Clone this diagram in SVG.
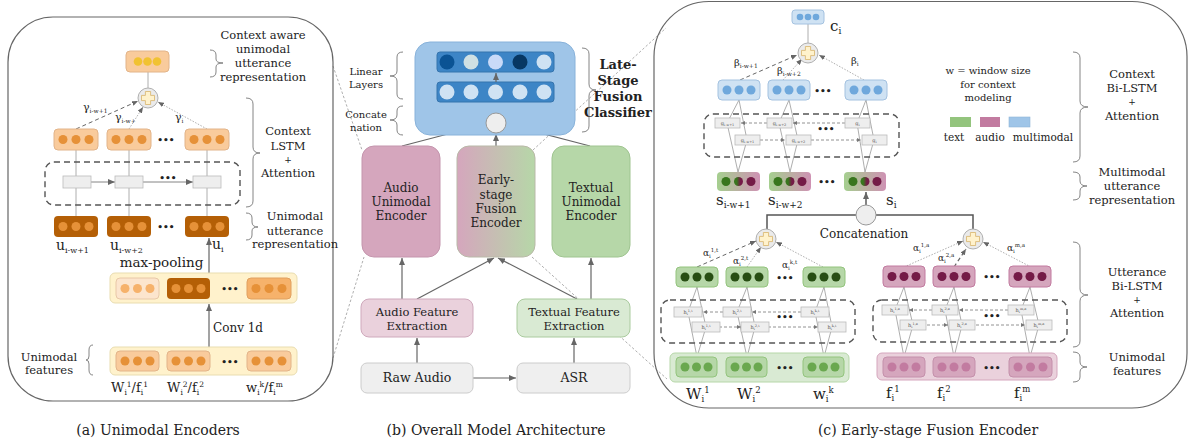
<svg xmlns="http://www.w3.org/2000/svg" width="1192" height="447" viewBox="0 0 1192 447">
<defs>
<style>
.f{font-family:"DejaVu Serif","Liberation Serif",serif;fill:#222}
.c{text-anchor:middle}
.frame{fill:none;stroke:#666;stroke-width:1.2}
.dbox{fill:none;stroke:#555;stroke-width:1.4;stroke-dasharray:6,4}
.cell{fill:#eeeeee;stroke:#bbbbbb;stroke-width:0.8}
.ln{fill:none;stroke:#999;stroke-width:0.8}
.ar{fill:none;stroke:#666;stroke-width:1.2;marker-end:url(#ah)}
.da{fill:none;stroke:#666;stroke-width:1;stroke-dasharray:4,3;marker-end:url(#ahs)}
.dt{fill:none;stroke:#999;stroke-width:0.8;stroke-dasharray:1.5,1.5;marker-end:url(#ahs)}
.dg{fill:none;stroke:#999;stroke-width:0.8;stroke-dasharray:2.5,2}
.cda{fill:none;stroke:#777;stroke-width:0.8;stroke-dasharray:3,2;marker-end:url(#aht)}
.brace{fill:none;stroke:#777;stroke-width:0.9}
.dots{font-family:"DejaVu Sans",sans-serif;font-size:9px;fill:#222;text-anchor:middle;font-weight:bold}
.tiny{font-family:"DejaVu Serif",serif;font-size:5px;fill:#555;text-anchor:middle}
</style>
<marker id="ah" markerWidth="7" markerHeight="6" refX="7" refY="3" orient="auto" markerUnits="userSpaceOnUse"><path d="M0,0 L7,3 L0,6 z" fill="#666"/></marker>
<marker id="ahs" markerWidth="6" markerHeight="5" refX="6" refY="2.5" orient="auto" markerUnits="userSpaceOnUse"><path d="M0,0 L6,2.5 L0,5 z" fill="#666"/></marker>
<marker id="aht" markerWidth="4" markerHeight="4" refX="4" refY="2" orient="auto" markerUnits="userSpaceOnUse"><path d="M0,0 L4,2 L0,4 z" fill="#777"/></marker>
<linearGradient id="gEarly" x1="0" y1="0" x2="1" y2="0"><stop offset="0" stop-color="#d5a6bd"/><stop offset="1" stop-color="#b6d7a8"/></linearGradient>
<linearGradient id="gS" x1="0" y1="0" x2="1" y2="0"><stop offset="0" stop-color="#a5cf8f"/><stop offset="1" stop-color="#cf92b4"/></linearGradient>
<linearGradient id="gSc" x1="0" y1="0" x2="1" y2="0"><stop offset="0.3" stop-color="#38761d"/><stop offset="0.7" stop-color="#741b47"/></linearGradient>
<g id="plus"><circle cx="0" cy="0" r="10" fill="#ebebeb" stroke="#b0b0b0" stroke-width="1"/><path d="M-2.6,-6.5 h5.2 v3.9 h3.9 v5.2 h-3.9 v3.9 h-5.2 v-3.9 h-3.9 v-5.2 h3.9 z" fill="#fff2cc" stroke="#d8b46a" stroke-width="0.8"/></g>
</defs>
<rect width="1192" height="447" fill="#ffffff"/>

<g id="connectors">
<!-- cross-panel dashed guide lines -->
<path class="dg" d="M333,66 L362,150"/>
<path class="dg" d="M333,358 L364,257"/>
<path class="dg" d="M533,150 L666,28"/>
<path class="dg" d="M532,257 L667,379"/>
<!-- panel a -->
<path class="ln" d="M148,88 V72"/>
<path class="da" d="M76,129 L138,101"/>
<path class="dt" d="M129,129 L143,107"/>
<path class="dt" d="M207,129 L158,102"/>
<path class="ln" d="M76,150 V216 M129,150 V216 M207,150 V216"/>
<path class="ar" style="stroke-width:0.8" d="M91,182 H115"/>
<path class="ar" style="stroke-width:0.8" d="M143,182 H193"/>
<path class="ar" d="M209,273 V238"/>
<path class="ar" d="M209,347 V304"/>
<!-- panel b -->
<path class="ar" d="M496,113 V103"/>
<path class="ar" d="M496,82 V73"/>
<path class="ar" d="M402,146 L486,124"/>
<path class="ar" d="M496,146 V134"/>
<path class="ar" d="M590,146 L506,124"/>
<path class="ar" d="M402,299 V258"/>
<path class="ar" d="M417,299 L494,258"/>
<path class="ar" d="M577,299 L498,258"/>
<path class="ar" d="M591,299 V258"/>
<path class="ar" d="M417,363 V338"/>
<path class="ar" d="M574,363 V338"/>
<path class="ar" d="M473,378 H516"/>
<!-- panel c : context level -->
<path class="ln" d="M808,43 V24"/>
<path class="da" d="M740,80 L797,55"/>
<path class="dt" d="M783,80 L802,59"/>
<path class="dt" d="M864,80 L819,55"/>
<path class="ln" d="M739,100 L727,123 L738,172 L747,140 Z"/>
<path class="ln" d="M789,100 L779,123 L790,172 L798,140 Z"/>
<path class="ln" d="M866,100 L857,123 L865,172 L874,140 Z"/>
<path class="cda" d="M767,123 H741"/>
<path class="cda" d="M845,123 H793"/>
<path class="cda" d="M760,140 H785"/>
<path class="cda" d="M811,140 H861"/>
<path class="ar" style="stroke-width:1.6" d="M866,205 V192"/>
<path fill="none" stroke="#555" stroke-width="1.5" d="M856,215 H767 V229"/>
<path fill="none" stroke="#555" stroke-width="1.5" d="M876,215 H973 V229"/>
<!-- panel c : text level -->
<path class="da" d="M697,267 L756,241"/>
<path class="dt" d="M747,267 L761,247"/>
<path class="dt" d="M823,267 L776,242"/>
<path class="ln" d="M697,287 L688,312 L697,357 L706,327 Z"/>
<path class="ln" d="M747,287 L737,312 L747,357 L755,327 Z"/>
<path class="ln" d="M824,287 L815,312 L824,357 L832,327 Z"/>
<path class="cda" d="M723,312 H703"/>
<path class="cda" d="M801,312 H752"/>
<path class="cda" d="M719,327 H741"/>
<path class="cda" d="M768,327 H818"/>
<!-- panel c : audio level -->
<path class="dt" d="M904,267 L963,241"/>
<path class="da" style="stroke-width:1.2" d="M954,267 L966,249"/>
<path class="dt" d="M1031,267 L983,242"/>
<path class="ln" d="M904,287 L895,310 L904,357 L913,325 Z"/>
<path class="ln" d="M954,287 L945,310 L954,357 L962,325 Z"/>
<path class="ln" d="M1030,287 L1021,310 L1030,357 L1039,325 Z"/>
<path class="cda" d="M932,310 H909"/>
<path class="cda" d="M1008,310 H959"/>
<path class="cda" d="M927,325 H948"/>
<path class="cda" d="M976,325 H1025"/>
</g>

<!-- ================= PANEL A ================= -->
<g id="panel-a-frame"><rect class="frame" x="8" y="17" width="325" height="384" rx="45"/></g>

<g id="a-context-out">
<rect x="126" y="51" width="43" height="21" rx="4" fill="#f9cb9c" stroke="#e2b48a"/>
<circle cx="138" cy="61.5" r="4.3" fill="#f1c232"/><circle cx="147.5" cy="61.5" r="4.3" fill="#f1c232"/><circle cx="157" cy="61.5" r="4.3" fill="#f1c232"/>
</g>
<g id="a-plus"><use href="#plus" x="148" y="98"/></g>

<g id="a-attn-labels">
<text class="f" x="83" y="111" font-size="11">γ<tspan font-size="6" dy="2">i-w+1</tspan></text>
<text class="f" x="115" y="121" font-size="11">γ<tspan font-size="6" dy="2">i-w+</tspan></text>
<text class="f" x="116" y="136" font-size="6">2</text>
<text class="f" x="175" y="121" font-size="11">γ<tspan font-size="6" dy="2">i</tspan></text>
</g>

<g id="a-ctx-h1"><rect x="54" y="129" width="44" height="21" rx="4" fill="#f9cb9c" stroke="#e2b48a"/><circle cx="63" cy="139.5" r="4.5" fill="#e69138"/><circle cx="76" cy="139.5" r="4.5" fill="#e69138"/><circle cx="89" cy="139.5" r="4.5" fill="#e69138"/></g>
<g id="a-ctx-h2"><rect x="107" y="129" width="44" height="21" rx="4" fill="#f9cb9c" stroke="#e2b48a"/><circle cx="116" cy="139.5" r="4.5" fill="#e69138"/><circle cx="129" cy="139.5" r="4.5" fill="#e69138"/><circle cx="142" cy="139.5" r="4.5" fill="#e69138"/></g>
<text class="dots" x="166" y="143">•••</text>
<g id="a-ctx-h3"><rect x="185" y="129" width="44" height="21" rx="4" fill="#f9cb9c" stroke="#e2b48a"/><circle cx="194" cy="139.5" r="4.5" fill="#e69138"/><circle cx="207" cy="139.5" r="4.5" fill="#e69138"/><circle cx="220" cy="139.5" r="4.5" fill="#e69138"/></g>

<g id="a-lstm">
<rect class="dbox" x="45" y="162" width="195" height="43" rx="9"/>
<rect class="cell" x="63" y="176" width="28" height="12"/>
<rect class="cell" x="115" y="176" width="28" height="12"/>
<rect class="cell" x="193" y="176" width="28" height="12"/>
<text class="dots" x="168" y="181">•••</text>
</g>

<g id="a-u1"><rect x="54" y="216" width="44" height="21" rx="4" fill="#b45f06"/><circle cx="63" cy="226.5" r="4.5" fill="#e69138"/><circle cx="76" cy="226.5" r="4.5" fill="#e69138"/><circle cx="89" cy="226.5" r="4.5" fill="#e69138"/></g>
<g id="a-u2"><rect x="107" y="216" width="44" height="21" rx="4" fill="#b45f06"/><circle cx="116" cy="226.5" r="4.5" fill="#e69138"/><circle cx="129" cy="226.5" r="4.5" fill="#e69138"/><circle cx="142" cy="226.5" r="4.5" fill="#e69138"/></g>
<text class="dots" x="166" y="230">•••</text>
<g id="a-u3"><rect x="185" y="216" width="44" height="21" rx="4" fill="#b45f06"/><circle cx="194" cy="226.5" r="4.5" fill="#e69138"/><circle cx="207" cy="226.5" r="4.5" fill="#e69138"/><circle cx="220" cy="226.5" r="4.5" fill="#e69138"/></g>
<g id="a-u-labels">
<text class="f" x="56" y="250" font-size="14">u<tspan font-size="8" dy="3">i-w+1</tspan></text>
<text class="f" x="110" y="250" font-size="14">u<tspan font-size="8" dy="3">i-w+2</tspan></text>
<text class="f" x="212" y="249" font-size="14">u<tspan font-size="8" dy="3">i</tspan></text>
</g>
<text class="f c" x="161.5" y="267" font-size="13.5">max-pooling</text>

<g id="a-maxpool">
<rect x="110" y="273" width="187" height="30" rx="5" fill="#fff2cc" stroke="#e9ddb0"/>
<rect x="116" y="278" width="43" height="21" rx="4" fill="#fce5cd" stroke="#e8c8a8"/><circle cx="125" cy="288.5" r="4.5" fill="#f6b26b"/><circle cx="137.5" cy="288.5" r="4.5" fill="#f6b26b"/><circle cx="150" cy="288.5" r="4.5" fill="#f6b26b"/>
<rect x="167" y="278" width="43" height="21" rx="4" fill="#b45f06"/><circle cx="176" cy="288.5" r="4.5" fill="#e69138"/><circle cx="188.5" cy="288.5" r="4.5" fill="#e69138"/><circle cx="201" cy="288.5" r="4.5" fill="#e69138"/>
<text class="dots" x="230" y="292">•••</text>
<rect x="247" y="278" width="44" height="21" rx="4" fill="#f6b26b" stroke="#e0a060"/><circle cx="256" cy="288.5" r="4.5" fill="#e69138"/><circle cx="269" cy="288.5" r="4.5" fill="#e69138"/><circle cx="282" cy="288.5" r="4.5" fill="#e69138"/>
</g>
<text class="f" x="213" y="332" font-size="12">Conv 1d</text>

<g id="a-features">
<rect x="110" y="347" width="187" height="28" rx="5" fill="#fff2cc" stroke="#e9ddb0"/>
<rect x="116" y="351" width="43" height="20" rx="4" fill="#f9cb9c" stroke="#e2b48a"/><circle cx="125" cy="361" r="4.5" fill="#e69138"/><circle cx="137.5" cy="361" r="4.5" fill="#e69138"/><circle cx="150" cy="361" r="4.5" fill="#e69138"/>
<rect x="167" y="351" width="43" height="20" rx="4" fill="#f9cb9c" stroke="#e2b48a"/><circle cx="176" cy="361" r="4.5" fill="#e69138"/><circle cx="188.5" cy="361" r="4.5" fill="#e69138"/><circle cx="201" cy="361" r="4.5" fill="#e69138"/>
<text class="dots" x="230" y="364.5">•••</text>
<rect x="247" y="351" width="44" height="20" rx="4" fill="#f9cb9c" stroke="#e2b48a"/><circle cx="256" cy="361" r="4.5" fill="#e69138"/><circle cx="269" cy="361" r="4.5" fill="#e69138"/><circle cx="282" cy="361" r="4.5" fill="#e69138"/>
</g>
<g id="a-feature-labels">
<text class="f" x="111" y="392" font-size="13">W<tspan font-size="7.5" dy="3">i</tspan><tspan font-size="7.5" dy="-8">1</tspan><tspan dy="5">/f</tspan><tspan font-size="7.5" dy="3">i</tspan><tspan font-size="7.5" dy="-8">1</tspan></text>
<text class="f" x="167" y="392" font-size="13">W<tspan font-size="7.5" dy="3">i</tspan><tspan font-size="7.5" dy="-8">2</tspan><tspan dy="5">/f</tspan><tspan font-size="7.5" dy="3">i</tspan><tspan font-size="7.5" dy="-8">2</tspan></text>
<text class="f" x="246" y="392" font-size="13">w<tspan font-size="7.5" dy="3">i</tspan><tspan font-size="7.5" dy="-8">k</tspan><tspan dy="5">/f</tspan><tspan font-size="7.5" dy="3">i</tspan><tspan font-size="7.5" dy="-8">m</tspan></text>
</g>

<g id="a-side-labels">
<text class="f c" font-size="11.5"><tspan x="263" y="39">Context aware</tspan><tspan x="263" y="53">unimodal</tspan><tspan x="263" y="67">utterance</tspan><tspan x="263" y="81">representation</tspan></text>
<path class="brace" d="M210,50 Q216,50 216,55 L216,59 Q216,63 223,63 Q216,63 216,67 L216,72 Q216,77 210,77"/>
<text class="f c" font-size="11.5"><tspan x="288" y="135">Context</tspan><tspan x="288" y="150">LSTM</tspan><tspan x="288" y="163" font-size="9">+</tspan><tspan x="288" y="177">Attention</tspan></text>
<path class="brace" d="M246,98 Q253,98 253,104 L253,147 Q253,153 260,153 Q253,153 253,159 L253,201 Q253,207 246,207"/>
<text class="f c" font-size="11.5"><tspan x="295" y="220">Unimodal</tspan><tspan x="295" y="235">utterance</tspan><tspan x="295" y="248">representation</tspan></text>
<path class="brace" d="M246,213 Q252,213 252,218 L252,222 Q252,227 258,227 Q252,227 252,231 L252,235 Q252,240 246,240"/>
<text class="f c" font-size="11.5"><tspan x="49" y="361">Unimodal</tspan><tspan x="49" y="374">features</tspan></text>
<path class="brace" d="M93,345 Q89,345 89,350 L89,356 Q89,360 86,360 Q89,360 89,364 L89,370 Q89,375 93,375"/>
</g>
<text class="f c" x="158" y="435" font-size="14">(a)  Unimodal Encoders</text>

<!-- ================= PANEL B ================= -->
<g id="b-classifier">
<rect x="415" y="42" width="160" height="93" rx="15" fill="#9fc5e8" stroke="#88b2da"/>
<rect x="437" y="52" width="117" height="20" rx="3" fill="#3d85c6" stroke="#3574ad"/>
<circle cx="447" cy="62" r="7.5" fill="#0b5394"/><circle cx="471" cy="62" r="7.5" fill="#d0e0e3"/><circle cx="495.5" cy="62" r="7.5" fill="#c9daf8"/><circle cx="520" cy="62" r="7.5" fill="#073763"/><circle cx="544" cy="62" r="7.5" fill="#cfe2f3"/>
<rect x="437" y="82" width="117" height="20" rx="3" fill="#3d85c6" stroke="#3574ad"/>
<circle cx="447" cy="92" r="7.5" fill="#cfe2f3"/><circle cx="471" cy="92" r="7.5" fill="#cfe2f3"/><circle cx="495.5" cy="92" r="7.5" fill="#cfe2f3"/><circle cx="520" cy="92" r="7.5" fill="#cfe2f3"/><circle cx="544" cy="92" r="7.5" fill="#cfe2f3"/>
</g>
<path class="ar" d="M496,82 V73"/>
<g id="b-concat"><circle cx="496" cy="123" r="10" fill="#eeeeee" stroke="#999"/></g>
<g id="b-classifier-labels">
<text class="f c" font-size="10"><tspan x="366" y="75">Linear</tspan><tspan x="366" y="88">Layers</tspan></text>
<path class="brace" d="M403,52 Q397,52 397,57 L397,71 Q397,76 390,76 Q397,76 397,81 L397,94 Q397,99 403,99"/>
<text class="f c" font-size="10"><tspan x="366" y="118">Concate</tspan><tspan x="366" y="131">nation</tspan></text>
<path class="brace" d="M403,106 Q397,106 397,111 L397,115 Q397,120 390,120 Q397,120 397,125 L397,130 Q397,135 403,135"/>
<text class="f c" font-size="13" font-weight="bold"><tspan x="618" y="69">Late-</tspan><tspan x="618" y="85">Stage</tspan><tspan x="618" y="101">Fusion</tspan><tspan x="618" y="117">Classifier</tspan></text>
<path class="brace" d="M582,48 Q589,48 589,54 L589,84 Q589,90 596,90 Q589,90 589,96 L589,126 Q589,132 582,132"/>
</g>
<g id="b-audio-enc"><rect x="362" y="146" width="78" height="111" rx="12" fill="#d5a6bd" stroke="#c495ad"/>
<text class="f c" font-size="12"><tspan x="401" y="192">Audio</tspan><tspan x="401" y="206">Unimodal</tspan><tspan x="401" y="220">Encoder</tspan></text></g>
<g id="b-early-enc"><rect x="457" y="146" width="78" height="111" rx="12" fill="url(#gEarly)" stroke="#b9b9a8"/>
<text class="f c" font-size="12"><tspan x="496" y="184">Early-</tspan><tspan x="496" y="199">stage</tspan><tspan x="496" y="213">Fusion</tspan><tspan x="496" y="227">Encoder</tspan></text></g>
<g id="b-text-enc"><rect x="552" y="146" width="78" height="111" rx="12" fill="#b6d7a8" stroke="#9fc490"/>
<text class="f c" font-size="12"><tspan x="591" y="192">Textual</tspan><tspan x="591" y="206">Unimodal</tspan><tspan x="591" y="220">Encoder</tspan></text></g>
<g id="b-audio-feat"><rect x="361" y="299" width="112" height="38" rx="8" fill="#ead1dc" stroke="#cfa9bc"/>
<text class="f c" font-size="11.5"><tspan x="417" y="316">Audio Feature</tspan><tspan x="417" y="330">Extraction</tspan></text></g>
<g id="b-text-feat"><rect x="517" y="299" width="113" height="38" rx="8" fill="#d9ead3" stroke="#aacb9e"/>
<text class="f c" font-size="11.5"><tspan x="574" y="316">Textual Feature</tspan><tspan x="574" y="330">Extraction</tspan></text></g>
<g id="b-raw-audio"><rect x="361" y="363" width="112" height="30" rx="6" fill="#efefef" stroke="#cccccc"/>
<text class="f c" x="417" y="382" font-size="12.5">Raw Audio</text></g>
<g id="b-asr"><rect x="517" y="363" width="113" height="30" rx="6" fill="#efefef" stroke="#cccccc"/>
<text class="f c" x="574" y="382" font-size="12.5">ASR</text></g>
<text class="f c" x="496" y="435" font-size="14">(b) Overall Model Architecture</text>

<!-- ================= PANEL C ================= -->
<g id="panel-c-frame"><rect class="frame" x="654" y="1.5" width="533" height="406.5" rx="55"/></g>

<g id="c-ci"><rect x="792" y="10" width="32" height="14" rx="3" fill="#cfe2f3" stroke="#a4c2e0"/>
<circle cx="800" cy="17" r="3.3" fill="#6fa8dc"/><circle cx="808" cy="17" r="3.3" fill="#6fa8dc"/><circle cx="816" cy="17" r="3.3" fill="#6fa8dc"/></g>
<text class="f" x="830" y="31" font-size="15">c<tspan font-size="9" dy="3">i</tspan></text>
<g id="c-plus-ctx"><use href="#plus" x="808" y="53"/></g>
<g id="c-beta-labels">
<text class="f" x="734" y="66" font-size="10">β<tspan font-size="6" dy="2">i-w+1</tspan></text>
<text class="f" x="777" y="74" font-size="10">β<tspan font-size="6" dy="2">i-w+2</tspan></text>
<text class="f" x="851" y="64" font-size="10">β<tspan font-size="6" dy="2">i</tspan></text>
</g>
<g id="c-ctx-h1"><rect x="718" y="80" width="42" height="20" rx="4" fill="#cfe2f3" stroke="#a4c2e0"/><circle cx="727" cy="90" r="4.5" fill="#6fa8dc"/><circle cx="739" cy="90" r="4.5" fill="#6fa8dc"/><circle cx="751" cy="90" r="4.5" fill="#6fa8dc"/></g>
<g id="c-ctx-h2"><rect x="768" y="80" width="42" height="20" rx="4" fill="#cfe2f3" stroke="#a4c2e0"/><circle cx="777" cy="90" r="4.5" fill="#6fa8dc"/><circle cx="789" cy="90" r="4.5" fill="#6fa8dc"/><circle cx="801" cy="90" r="4.5" fill="#6fa8dc"/></g>
<text class="dots" x="823" y="93.5">•••</text>
<g id="c-ctx-h3"><rect x="845" y="80" width="42" height="20" rx="4" fill="#cfe2f3" stroke="#a4c2e0"/><circle cx="854" cy="90" r="4.5" fill="#6fa8dc"/><circle cx="866" cy="90" r="4.5" fill="#6fa8dc"/><circle cx="878" cy="90" r="4.5" fill="#6fa8dc"/></g>

<g id="c-ctx-bilstm">
<rect class="dbox" x="704" y="114" width="195" height="43" rx="9"/>
<rect class="cell" x="715" y="118" width="25" height="10"/><text class="tiny" x="727.5" y="125">g<tspan font-size="3.5" dy="1">i-w+1</tspan></text>
<rect class="cell" x="767" y="118" width="25" height="10"/><text class="tiny" x="779.5" y="125">g<tspan font-size="3.5" dy="1">i-w+2</tspan></text>
<rect class="cell" x="845" y="118" width="25" height="10"/><text class="tiny" x="857.5" y="125">g<tspan font-size="3.5" dy="1">i</tspan></text>
<rect class="cell" x="735" y="135" width="25" height="10"/><text class="tiny" x="747.5" y="142">g<tspan font-size="3.5" dy="1">i-w+1</tspan></text>
<rect class="cell" x="786" y="135" width="25" height="10"/><text class="tiny" x="798.5" y="142">g<tspan font-size="3.5" dy="1">i-w+2</tspan></text>
<rect class="cell" x="862" y="135" width="25" height="10"/><text class="tiny" x="874.5" y="142">g<tspan font-size="3.5" dy="1">i</tspan></text>
<text class="dots" x="826" y="131.5">•••</text>
</g>

<g id="c-s1"><rect x="717" y="172" width="43" height="19" rx="4" fill="url(#gS)"/><circle cx="726" cy="181.5" r="4.5" fill="#38761d"/><circle cx="738.5" cy="181.5" r="4.5" fill="url(#gSc)"/><circle cx="751" cy="181.5" r="4.5" fill="#741b47"/></g>
<g id="c-s2"><rect x="769" y="172" width="42" height="19" rx="4" fill="url(#gS)"/><circle cx="778" cy="181.5" r="4.5" fill="#38761d"/><circle cx="790" cy="181.5" r="4.5" fill="url(#gSc)"/><circle cx="802" cy="181.5" r="4.5" fill="#741b47"/></g>
<text class="dots" x="827" y="185">•••</text>
<g id="c-s3"><rect x="844" y="172" width="42" height="19" rx="4" fill="url(#gS)"/><circle cx="853" cy="181.5" r="4.5" fill="#38761d"/><circle cx="865" cy="181.5" r="4.5" fill="url(#gSc)"/><circle cx="877" cy="181.5" r="4.5" fill="#741b47"/></g>
<g id="c-s-labels">
<text class="f" x="716" y="205" font-size="15">s<tspan font-size="9" dy="3">i-w+1</tspan></text>
<text class="f" x="768" y="205" font-size="15">s<tspan font-size="9" dy="3">i-w+2</tspan></text>
<text class="f" x="886" y="205" font-size="15">s<tspan font-size="9" dy="3">i</tspan></text>
</g>
<g id="c-concat"><circle cx="866" cy="215" r="10" fill="#eeeeee" stroke="#999"/></g>
<text class="f c" x="864" y="238" font-size="12">Concatenation</text>
<g id="c-plus-text"><use href="#plus" x="766" y="239"/></g>
<g id="c-plus-audio"><use href="#plus" x="973" y="239"/></g>

<g id="c-alpha-labels">
<text class="f" x="703" y="256" font-size="9">α<tspan font-size="5.5" dy="2">i</tspan><tspan font-size="5.5" dy="-6">1,t</tspan></text>
<text class="f" x="733" y="264" font-size="9">α<tspan font-size="5.5" dy="2">i</tspan><tspan font-size="5.5" dy="-6">2,t</tspan></text>
<text class="f" x="782" y="268" font-size="9">α<tspan font-size="5.5" dy="2">i</tspan><tspan font-size="5.5" dy="-6">k,t</tspan></text>
<text class="f" x="913" y="251" font-size="9">α<tspan font-size="5.5" dy="2">i</tspan><tspan font-size="5.5" dy="-6">1,a</tspan></text>
<text class="f" x="938" y="261" font-size="9">α<tspan font-size="5.5" dy="2">i</tspan><tspan font-size="5.5" dy="-6">2,a</tspan></text>
<text class="f" x="1007" y="251" font-size="9">α<tspan font-size="5.5" dy="2">i</tspan><tspan font-size="5.5" dy="-6">m,a</tspan></text>
</g>

<!-- text utterance level -->
<g id="c-t-h1"><rect x="676" y="267" width="42" height="20" rx="4" fill="#b6d7a8" stroke="#93c47d"/><circle cx="685" cy="277" r="4.5" fill="#274e13"/><circle cx="697" cy="277" r="4.5" fill="#274e13"/><circle cx="709" cy="277" r="4.5" fill="#274e13"/></g>
<g id="c-t-h2"><rect x="726" y="267" width="42" height="20" rx="4" fill="#b6d7a8" stroke="#93c47d"/><circle cx="735" cy="277" r="4.5" fill="#274e13"/><circle cx="747" cy="277" r="4.5" fill="#274e13"/><circle cx="759" cy="277" r="4.5" fill="#274e13"/></g>
<text class="dots" x="785" y="280.5">•••</text>
<g id="c-t-h3"><rect x="803" y="267" width="42" height="20" rx="4" fill="#b6d7a8" stroke="#93c47d"/><circle cx="812" cy="277" r="4.5" fill="#274e13"/><circle cx="824" cy="277" r="4.5" fill="#274e13"/><circle cx="836" cy="277" r="4.5" fill="#274e13"/></g>
<g id="c-t-bilstm">
<rect class="dbox" x="661" y="300" width="194" height="43" rx="9"/>
<rect class="cell" x="674" y="307" width="28" height="10"/><text class="tiny" x="688" y="314">h<tspan font-size="3.5" dy="1">i</tspan><tspan font-size="3.5" dy="-3">1,t</tspan></text>
<rect class="cell" x="723" y="307" width="28" height="10"/><text class="tiny" x="737" y="314">h<tspan font-size="3.5" dy="1">i</tspan><tspan font-size="3.5" dy="-3">2,t</tspan></text>
<rect class="cell" x="801" y="307" width="28" height="10"/><text class="tiny" x="815" y="314">h<tspan font-size="3.5" dy="1">i</tspan><tspan font-size="3.5" dy="-3">k,t</tspan></text>
<rect class="cell" x="692" y="322" width="28" height="10"/><text class="tiny" x="706" y="329">h<tspan font-size="3.5" dy="1">i</tspan><tspan font-size="3.5" dy="-3">1,t</tspan></text>
<rect class="cell" x="741" y="322" width="28" height="10"/><text class="tiny" x="755" y="329">h<tspan font-size="3.5" dy="1">i</tspan><tspan font-size="3.5" dy="-3">2,t</tspan></text>
<rect class="cell" x="818" y="322" width="28" height="10"/><text class="tiny" x="832" y="329">h<tspan font-size="3.5" dy="1">i</tspan><tspan font-size="3.5" dy="-3">k,t</tspan></text>
<text class="dots" x="785" y="320">•••</text>
</g>
<g id="c-t-features">
<rect x="670" y="353" width="179" height="29" rx="5" fill="#d9ead3" stroke="#b6d7a8"/>
<rect x="676" y="357" width="41" height="20" rx="4" fill="#b6d7a8" stroke="#93c47d"/><circle cx="685" cy="367" r="4.5" fill="#6aa84f"/><circle cx="696.5" cy="367" r="4.5" fill="#6aa84f"/><circle cx="708" cy="367" r="4.5" fill="#6aa84f"/>
<rect x="726" y="357" width="41" height="20" rx="4" fill="#b6d7a8" stroke="#93c47d"/><circle cx="735" cy="367" r="4.5" fill="#6aa84f"/><circle cx="746.5" cy="367" r="4.5" fill="#6aa84f"/><circle cx="758" cy="367" r="4.5" fill="#6aa84f"/>
<text class="dots" x="785" y="370.5">•••</text>
<rect x="803" y="357" width="41" height="20" rx="4" fill="#b6d7a8" stroke="#93c47d"/><circle cx="812" cy="367" r="4.5" fill="#6aa84f"/><circle cx="823.5" cy="367" r="4.5" fill="#6aa84f"/><circle cx="835" cy="367" r="4.5" fill="#6aa84f"/>
</g>
<g id="c-t-labels">
<text class="f" x="686" y="399" font-size="15">W<tspan font-size="8.5" dy="3">i</tspan><tspan font-size="8.5" dy="-9">1</tspan></text>
<text class="f" x="737" y="399" font-size="15">W<tspan font-size="8.5" dy="3">i</tspan><tspan font-size="8.5" dy="-9">2</tspan></text>
<text class="f" x="813" y="399" font-size="15">w<tspan font-size="8.5" dy="3">i</tspan><tspan font-size="8.5" dy="-9">k</tspan></text>
</g>

<!-- audio utterance level -->
<g id="c-a-h1"><rect x="883" y="266" width="42" height="21" rx="4" fill="#d5a6bd" stroke="#c27ba0"/><circle cx="892" cy="276.5" r="4.5" fill="#741b47"/><circle cx="904" cy="276.5" r="4.5" fill="#741b47"/><circle cx="916" cy="276.5" r="4.5" fill="#741b47"/></g>
<g id="c-a-h2"><rect x="933" y="266" width="42" height="21" rx="4" fill="#d5a6bd" stroke="#c27ba0"/><circle cx="942" cy="276.5" r="4.5" fill="#741b47"/><circle cx="954" cy="276.5" r="4.5" fill="#741b47"/><circle cx="966" cy="276.5" r="4.5" fill="#741b47"/></g>
<text class="dots" x="992" y="280">•••</text>
<g id="c-a-h3"><rect x="1009" y="266" width="42" height="21" rx="4" fill="#d5a6bd" stroke="#c27ba0"/><circle cx="1018" cy="276.5" r="4.5" fill="#741b47"/><circle cx="1030" cy="276.5" r="4.5" fill="#741b47"/><circle cx="1042" cy="276.5" r="4.5" fill="#741b47"/></g>
<g id="c-a-bilstm">
<rect class="dbox" x="873" y="300" width="194" height="42" rx="9"/>
<rect class="cell" x="882" y="305" width="26" height="10"/><text class="tiny" x="895" y="312">h<tspan font-size="3.5" dy="1">i</tspan><tspan font-size="3.5" dy="-3">1,a</tspan></text>
<rect class="cell" x="932" y="305" width="26" height="10"/><text class="tiny" x="945" y="312">h<tspan font-size="3.5" dy="1">i</tspan><tspan font-size="3.5" dy="-3">2,a</tspan></text>
<rect class="cell" x="1008" y="305" width="26" height="10"/><text class="tiny" x="1021" y="312">h<tspan font-size="3.5" dy="1">i</tspan><tspan font-size="3.5" dy="-3">m,a</tspan></text>
<rect class="cell" x="900" y="320" width="26" height="10"/><text class="tiny" x="913" y="327">h<tspan font-size="3.5" dy="1">i</tspan><tspan font-size="3.5" dy="-3">1,a</tspan></text>
<rect class="cell" x="949" y="320" width="26" height="10"/><text class="tiny" x="962" y="327">h<tspan font-size="3.5" dy="1">i</tspan><tspan font-size="3.5" dy="-3">2,a</tspan></text>
<rect class="cell" x="1026" y="320" width="26" height="10"/><text class="tiny" x="1039" y="327">h<tspan font-size="3.5" dy="1">i</tspan><tspan font-size="3.5" dy="-3">m,a</tspan></text>
<text class="dots" x="992" y="319">•••</text>
</g>
<g id="c-a-features">
<rect x="877" y="353" width="180" height="27" rx="5" fill="#ead1dc" stroke="#d5a6bd"/>
<rect x="883" y="357" width="42" height="20" rx="4" fill="#d5a6bd" stroke="#c490ab"/><circle cx="892" cy="367" r="4.5" fill="#c27ba0"/><circle cx="904" cy="367" r="4.5" fill="#c27ba0"/><circle cx="916" cy="367" r="4.5" fill="#c27ba0"/>
<rect x="933" y="357" width="42" height="20" rx="4" fill="#d5a6bd" stroke="#c490ab"/><circle cx="942" cy="367" r="4.5" fill="#c27ba0"/><circle cx="954" cy="367" r="4.5" fill="#c27ba0"/><circle cx="966" cy="367" r="4.5" fill="#c27ba0"/>
<text class="dots" x="992" y="370.5">•••</text>
<rect x="1009" y="357" width="43" height="20" rx="4" fill="#d5a6bd" stroke="#c490ab"/><circle cx="1018" cy="367" r="4.5" fill="#c27ba0"/><circle cx="1030.5" cy="367" r="4.5" fill="#c27ba0"/><circle cx="1043" cy="367" r="4.5" fill="#c27ba0"/>
</g>
<g id="c-a-labels">
<text class="f" x="886" y="398" font-size="15">f<tspan font-size="8.5" dy="3">i</tspan><tspan font-size="8.5" dy="-9">1</tspan></text>
<text class="f" x="937" y="398" font-size="15">f<tspan font-size="8.5" dy="3">i</tspan><tspan font-size="8.5" dy="-9">2</tspan></text>
<text class="f" x="1014" y="398" font-size="15">f<tspan font-size="8.5" dy="3">i</tspan><tspan font-size="8.5" dy="-9">m</tspan></text>
</g>

<g id="c-legend">
<text class="f c" font-size="10"><tspan x="988" y="74">w = window size</tspan><tspan x="988" y="88">for context</tspan><tspan x="988" y="101">modeling</tspan></text>
<rect x="950" y="117" width="21" height="10" fill="#93c47d"/>
<rect x="980" y="117" width="20" height="10" fill="#c27ba0"/>
<rect x="1009" y="117" width="21" height="10" fill="#9fc5e8" stroke="#8fb5d8" stroke-width="0.6"/>
<text class="f c" x="954" y="141" font-size="10.5">text</text>
<text class="f c" x="990" y="141" font-size="10.5">audio</text>
<text class="f c" x="1043" y="141" font-size="10.5">multimodal</text>
</g>
<g id="c-side-labels">
<path class="brace" d="M1073,52 Q1080,52 1080,58 L1080,101 Q1080,107 1088,107 Q1080,107 1080,113 L1080,156 Q1080,162 1073,162"/>
<text class="f c" font-size="11.5"><tspan x="1132" y="78">Context</tspan><tspan x="1132" y="92">Bi-LSTM</tspan><tspan x="1132" y="105" font-size="9">+</tspan><tspan x="1132" y="120">Attention</tspan></text>
<path class="brace" d="M1073,172 Q1080,172 1080,177 L1080,181 Q1080,186 1087,186 Q1080,186 1080,191 L1080,195 Q1080,200 1073,200"/>
<text class="f c" font-size="11.5"><tspan x="1132" y="176">Multimodal</tspan><tspan x="1132" y="190">utterance</tspan><tspan x="1132" y="204">representation</tspan></text>
<path class="brace" d="M1073,242 Q1080,242 1080,248 L1080,289 Q1080,295 1088,295 Q1080,295 1080,301 L1080,341 Q1080,347 1073,347"/>
<text class="f c" font-size="11.5"><tspan x="1137" y="276">Utterance</tspan><tspan x="1137" y="290">Bi-LSTM</tspan><tspan x="1137" y="303" font-size="9">+</tspan><tspan x="1137" y="317">Attention</tspan></text>
<path class="brace" d="M1073,352 Q1080,352 1080,357 L1080,362 Q1080,367 1087,367 Q1080,367 1080,372 L1080,377 Q1080,382 1073,382"/>
<text class="f c" font-size="11.5"><tspan x="1137" y="361">Unimodal</tspan><tspan x="1137" y="375">features</tspan></text>
</g>
<text class="f c" x="928" y="435" font-size="14">(c) Early-stage Fusion Encoder</text>
</svg>
